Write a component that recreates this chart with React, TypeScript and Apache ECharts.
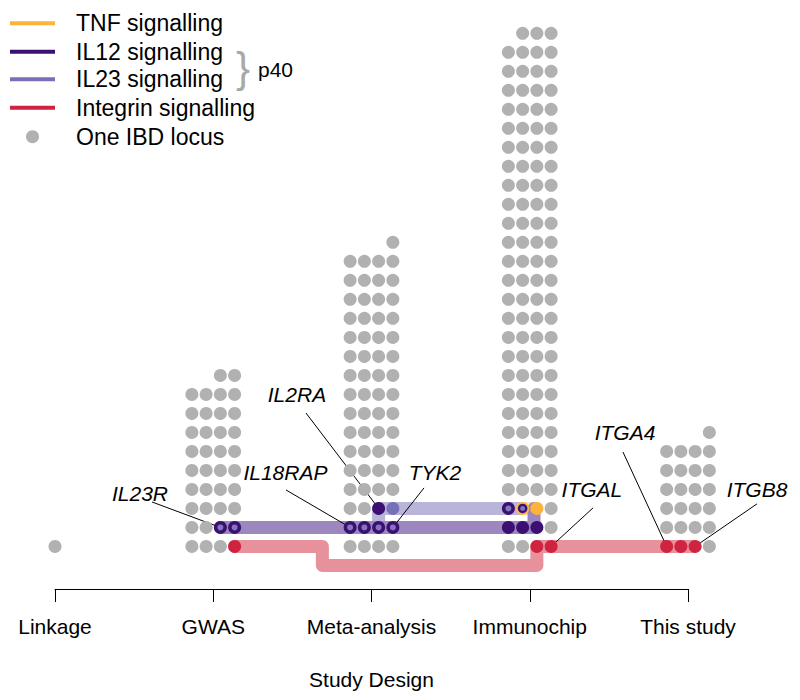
import React, { useEffect, useRef } from "react";
import * as echarts from "echarts";

// ---- data ----
const studyNames = ["Linkage", "GWAS", "Meta-analysis", "Immunochip", "This study"];
const lociPerStudy = [1, 38, 65, 111, 25];

// highlighted loci: [studyIndex, row, column(0..3)]
const integrinLoci = [[1, 0, 3], [3, 0, 2], [3, 0, 3], [4, 0, 0], [4, 0, 1], [4, 0, 2]];
const il12Loci = [[2, 2, 2], [3, 1, 0], [3, 1, 1], [3, 1, 2]];
const il23Loci = [[2, 2, 3]];
const p40Loci = [[1, 1, 2], [1, 1, 3], [2, 1, 0], [2, 1, 1], [2, 1, 2], [2, 1, 3], [3, 2, 0]];
const tnfP40Loci = [[3, 2, 1]];
const tnfLoci = [[3, 2, 2]];

// pathway routes: [studyIndex, columnPosition, row]
const integrinRoute = [[1, 3, 0], [2, -1.95, 0], [2, -1.95, -1], [3, 2, -1], [3, 2, 0], [4, 2, 0]];
const il12Route = [[1, 2, 1], [3, 1.8, 1], [3, 1.8, 2]];
const il23Route = [[2, 2, 1], [2, 2, 2], [3, 1, 2]];
const tnfRoute = [[3, 1, 2], [3, 2, 2]];

// gene annotations
const geneLabels = ["IL23R", "IL18RAP", "IL2RA", "TYK2", "ITGAL", "ITGA4", "ITGB8"];
const geneTargets = [[1, 1, 2], [2, 1, 0], [2, 2, 2], [2, 1, 3], [3, 0, 3], [4, 0, 0], [4, 0, 2]];
const geneLabelAt = [[0.537, 2.76], [1.456, 3.89], [1.529, 7.97], [2.401, 3.89], [3.393, 2.97], [3.602, 5.97], [4.436, 2.97]];
const leaderStart = [[0.613, 2.34], [1.46, 2.97], [1.586, 7.02], [2.332, 3.08], [3.4, 2.03], [3.589, 4.97], [4.436, 2.24]];

const legendLabels = ["TNF signalling", "IL12 signalling", "IL23 signalling", "Integrin signalling", "One IBD locus"];

// ---- styling ----
const COLS = 4;
const DX = 0.09;
const GRAY = "#b1b1b1";
const TNF = "#fbb33c";
const IL12 = "#3c0f73";
const IL23 = "#7670b6";
const INTEGRIN = "#cf2340";
const FONT = "Liberation Sans, Arial, Helvetica, sans-serif";

const xOf = (study: number, col: number) => study + (col - 1.5) * DX;

function layoutStudy(study: number, n: number): number[][] {
  const out: number[][] = [];
  if (n < COLS) {
    const start = (COLS - n) / 2;
    for (let i = 0; i < n; i++) out.push([study, 0, start + i]);
    return out;
  }
  const full = Math.floor(n / COLS);
  const rem = n % COLS;
  for (let r = 0; r < full; r++) for (let c = 0; c < COLS; c++) out.push([study, r, c]);
  for (let i = 0; i < rem; i++) out.push([study, full, COLS - rem + i]);
  return out;
}

const key = (l: number[]) => `${l[0]}_${l[1]}_${l[2]}`;

export default function App() {
  const ref = useRef<HTMLDivElement>(null);
  useEffect(() => {
    if (!ref.current) return;
    const chart = echarts.init(ref.current, null, { renderer: "svg" });

    const highlighted = new Set(
      [...integrinLoci, ...il12Loci, ...il23Loci, ...p40Loci, ...tnfP40Loci, ...tnfLoci].map(key)
    );
    const allLoci: number[][] = [];
    lociPerStudy.forEach((n, s) => allLoci.push(...layoutStudy(s, n)));
    const grayLoci = allLoci.filter((l) => !highlighted.has(key(l)));
    const toPt = (l: number[]) => [xOf(l[0], l[2]), l[1]];
    const routePts = (r: number[][]) => r.map((p) => [xOf(p[0], p[1]), p[2]]);

    const band = (data: number[][], color: string) => ({
      type: "line",
      data: routePts(data),
      showSymbol: false,
      silent: true,
      clip: false,
      lineStyle: { color, width: 13, cap: "round", join: "round" },
      z: 2,
    });
    const dots = (data: number[][], color: string, size: number, z = 4) => ({
      type: "scatter",
      data: data.map(toPt),
      symbol: "circle",
      symbolSize: size,
      silent: true,
      clip: false,
      itemStyle: { color, opacity: 1 },
      z,
    });

    const leaders = {
      type: "lines",
      coordinateSystem: "cartesian2d",
      silent: true,
      clip: false,
      z: 3,
      lineStyle: { color: "#000", width: 1, opacity: 1 },
      data: geneTargets.map((t, i) => ({ coords: [leaderStart[i], toPt(t)] })),
    };

    const labels = {
      type: "scatter",
      symbolSize: 1,
      silent: true,
      clip: false,
      z: 6,
      itemStyle: { opacity: 0 },
      data: geneLabels.map((g, i) => ({ name: g, value: geneLabelAt[i] })),
      label: {
        show: true,
        position: [0.5, 0.5],
        align: "center",
        verticalAlign: "middle",
        formatter: (p: any) => p.name,
        fontStyle: "italic",
        fontSize: 21,
        fontFamily: FONT,
        color: "#000000",
        textBorderWidth: 0,
        opacity: 1,
      },
    };

    const legendColors = [TNF, IL12, IL23, INTEGRIN];
    const legendY = [23.3, 51.7, 79.3, 107.7, 136.7];
    const graphic: any[] = [];
    legendColors.forEach((c, i) => {
      graphic.push({
        type: "line",
        shape: { x1: 10, y1: legendY[i], x2: 55, y2: legendY[i] },
        style: { stroke: c, lineWidth: 4 },
      });
    });
    graphic.push({ type: "circle", shape: { cx: 32.5, cy: legendY[4], r: 6.5 }, style: { fill: GRAY } });
    legendLabels.forEach((t, i) => {
      graphic.push({
        type: "text",
        x: 76,
        y: legendY[i],
        style: { text: t, fontSize: 23, fontFamily: FONT, fill: "#000", verticalAlign: "middle", align: "left" },
      });
    });
    graphic.push({
      type: "text",
      x: 236,
      y: 67,
      style: { text: "}", fontSize: 42, fontFamily: FONT, fill: "#a8a8a8", verticalAlign: "middle", align: "left" },
    });
    graphic.push({
      type: "text",
      x: 258,
      y: 69,
      style: { text: "p40", fontSize: 21, fontFamily: FONT, fill: "#000", verticalAlign: "middle", align: "left" },
    });

    chart.setOption({
      animation: false,
      backgroundColor: "#fff",
      grid: { left: 55, right: 112, top: 14.3, bottom: 111, containLabel: false, outerBoundsMode: "none" },
      xAxis: {
        type: "value",
        min: 0,
        max: 4,
        interval: 1,
        name: "Study Design",
        nameLocation: "middle",
        nameGap: 80,
        nameTextStyle: { fontSize: 21, fontFamily: FONT, color: "#000" },
        axisLine: { onZero: false, lineStyle: { color: "#000", width: 1 } },
        axisTick: { show: true, length: 13, lineStyle: { color: "#000", width: 1 } },
        axisLabel: {
          formatter: (v: number) => studyNames[Math.round(v)] ?? "",
          fontSize: 21,
          fontFamily: FONT,
          color: "#000",
          margin: 27,
        },
        splitLine: { show: false },
      },
      yAxis: { type: "value", min: -2.24, max: 28, show: false, splitLine: { show: false } },
      graphic,
      series: [
        band(il23Route, "#b8b4da"),
        band(tnfRoute, "#fde2ad"),
        band(il12Route, "#9c88be"),
        band(integrinRoute, "#e6919c"),
        leaders,
        dots(grayLoci, GRAY, 13),
        dots(integrinLoci, INTEGRIN, 13),
        dots(il12Loci, IL12, 13),
        dots(il23Loci, IL23, 13),
        dots(p40Loci, IL12, 13),
        dots(p40Loci, "#8078bf", 6, 5),
        dots(tnfP40Loci, TNF, 13),
        dots(tnfP40Loci, IL12, 9.5, 5),
        dots(tnfP40Loci, "#8078bf", 5, 5),
        dots(tnfLoci, TNF, 13),
        labels,
      ],
    });
    return () => chart.dispose();
  }, []);
  return <div ref={ref} style={{ position: "fixed", left: 0, top: 0, width: 800, height: 700 }} />;
}
